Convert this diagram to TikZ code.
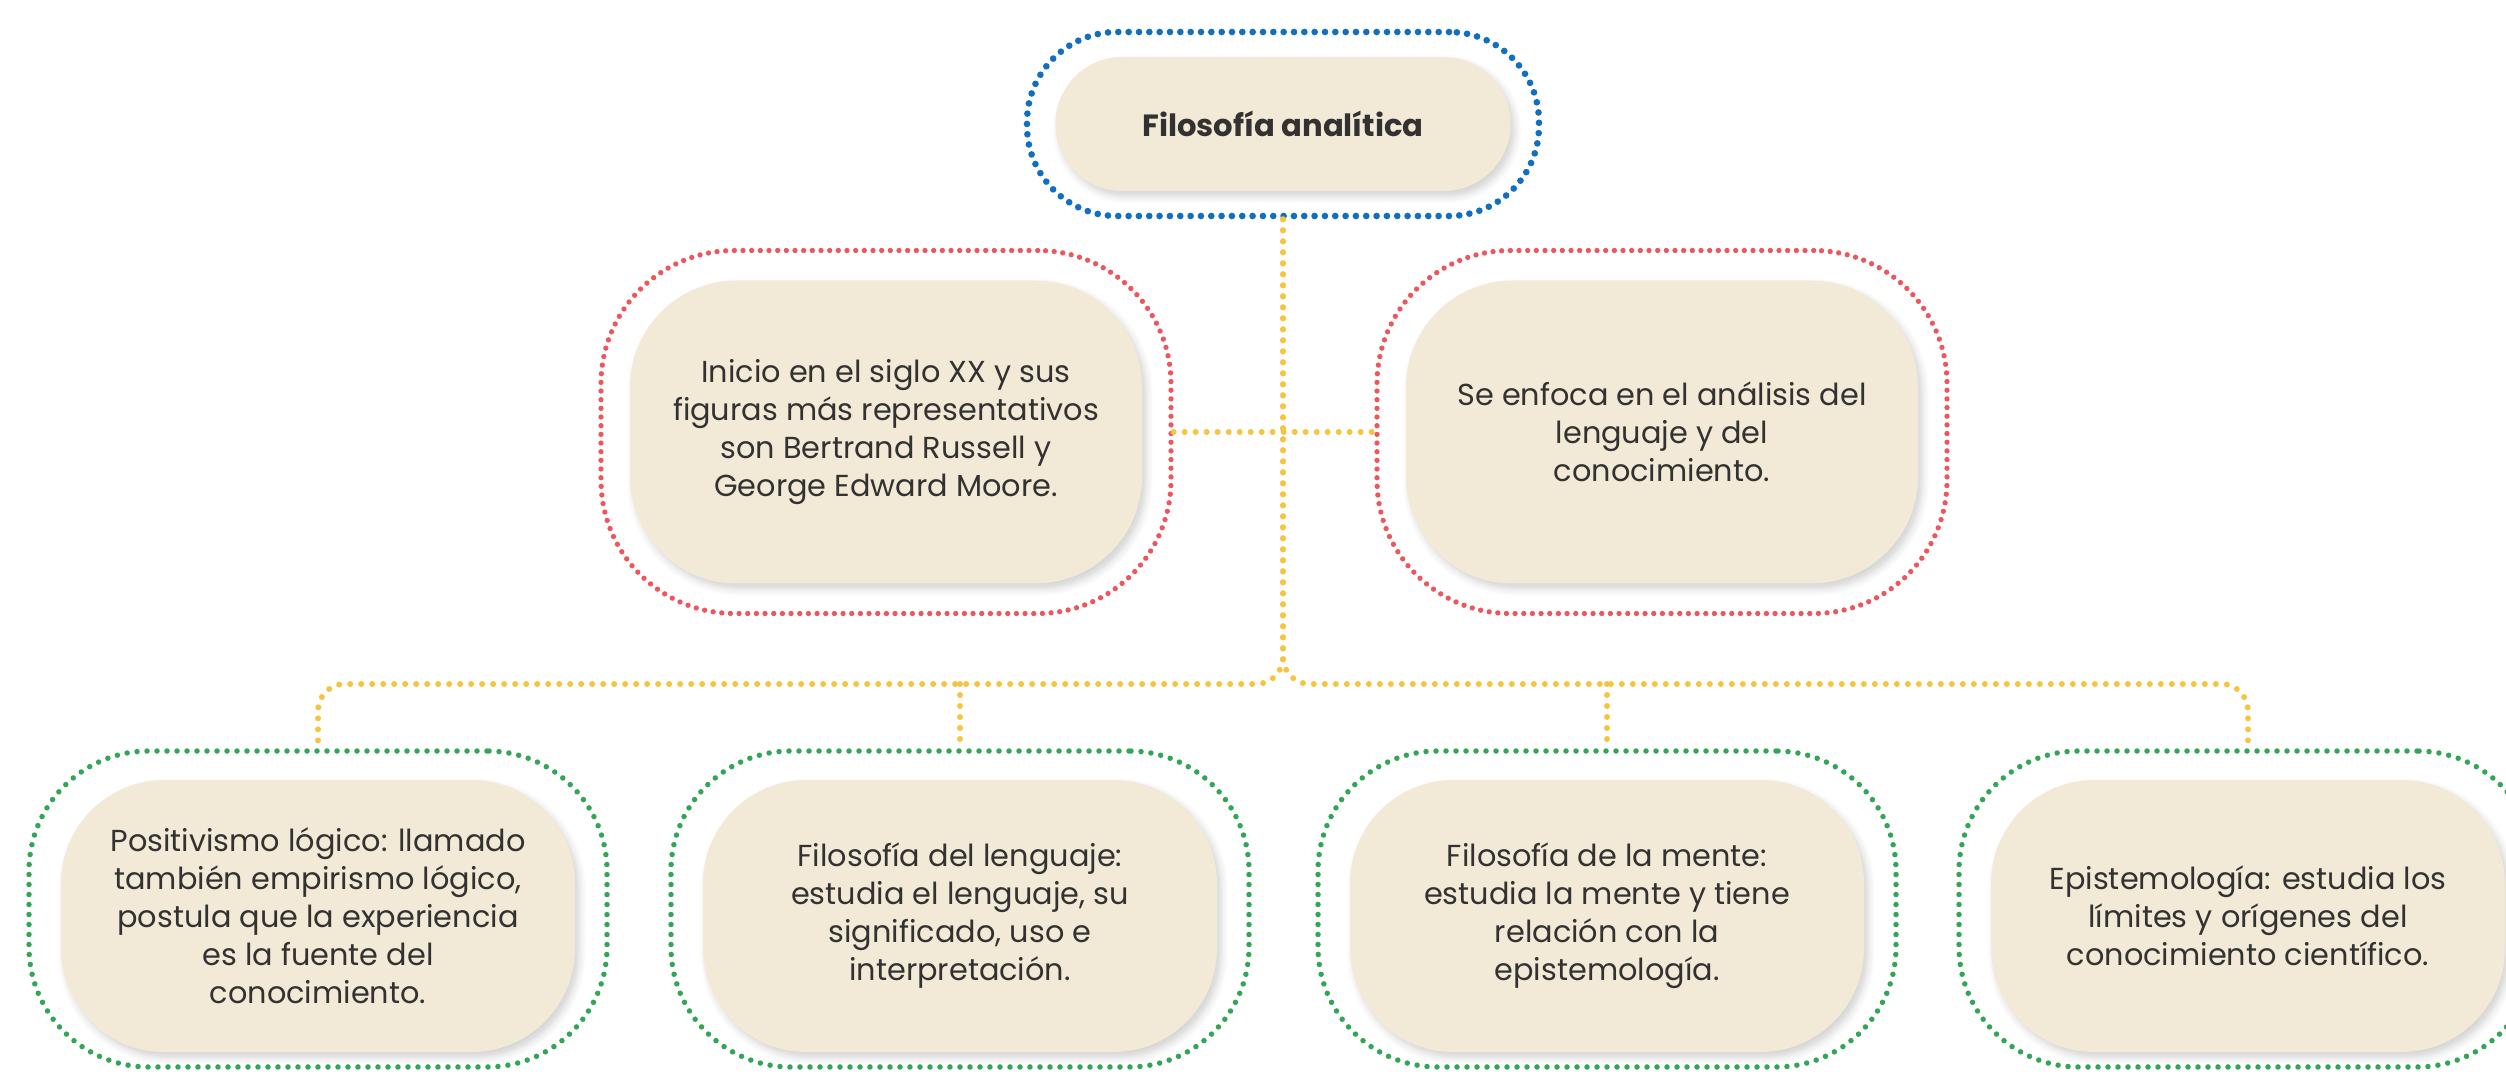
\documentclass[tikz,border=0pt]{standalone}
\usepackage{fontspec}
\setmainfont{Poppins}
\usetikzlibrary{shadows.blur}

\definecolor{cream}{RGB}{242,234,214}
\definecolor{dotblue}{RGB}{18,110,190}
\definecolor{dotred}{RGB}{236,86,92}
\definecolor{dotgreen}{RGB}{50,166,86}
\definecolor{dotyellow}{RGB}{247,196,66}
\definecolor{inkgray}{RGB}{50,50,50}

\tikzset{every picture/.style={line width=0.75pt}}
\tikzset{
  dotline/.style={line cap=round, dash pattern=on 0pt off #1},
  ring/.style={draw=#1, inner sep=0pt},
  card/.style={fill=cream, inner sep=0pt, align=center, text=inkgray,
    font=\fontsize{9.1}{11.4}\selectfont,
    blur shadow={shadow xshift=1.2pt, shadow yshift=-1.6pt, shadow blur steps=6, shadow opacity=18}},
  link/.style={draw=dotyellow, line width=1.8pt, dotline=3.3pt},
}

\begin{document}
\begin{tikzpicture}[x=0.3pt,y=0.3pt,yscale=-1,xscale=1]
	\useasboundingbox (0,0) rectangle (2506,1072);

	%Rings (dotted outlines)
	\node [ring=dotblue, line width=2pt, dotline=3.1pt, rounded corners=27pt, minimum width=153.6pt, minimum height=55.2pt] (analiticaring) at (1283,124) {};
	\node [ring=dotred, line width=1.6pt, dotline=2.6pt, rounded corners=40pt, minimum width=171pt, minimum height=108.9pt] (sigloring) at (886,432) {};
	\node [ring=dotred, line width=1.6pt, dotline=2.6pt, rounded corners=40pt, minimum width=171pt, minimum height=108.9pt] (enfocaring) at (1662,432) {};
	\foreach \nm/\cx in {positivismo/318, lenguaje/960, mente/1607, episteme/2248}
		\node [ring=dotgreen, line width=1.65pt, dotline=3pt, rounded corners=36pt, minimum width=173.4pt, minimum height=94.8pt] (\nm ring) at (\cx,909) {};

	%Cards (filled boxes with text)
	\node [card, rounded corners=20pt, minimum width=136.5pt, minimum height=40.2pt, font=\fontsize{9.2}{11.4}\selectfont\bfseries] (analitica) at (analiticaring) {Filosofía analítica};
	\node [card, rounded corners=32pt, minimum width=153.6pt, minimum height=90.9pt] (siglo) at (sigloring) {Inicio en el siglo XX y sus\\figuras más representativos\\son Bertrand Russell y\\George Edward Moore.};
	\node [card, rounded corners=32pt, minimum width=153.6pt, minimum height=90.9pt] (enfoca) at (enfocaring) {Se enfoca en el análisis del\\lenguaje y del\\conocimiento.};
	\node [card, rounded corners=31pt, minimum width=154.2pt, minimum height=81.6pt] (positivismo) at (318,916) {Positivismo lógico: llamado\\también empirismo lógico,\\postula que la experiencia\\es la fuente del\\conocimiento.};
	\node [card, rounded corners=31pt, minimum width=154.2pt, minimum height=81.6pt] (lenguaje) at (960,916) {Filosofía del lenguaje:\\estudia el lenguaje, su\\significado, uso e\\interpretación.};
	\node [card, rounded corners=31pt, minimum width=154.2pt, minimum height=81.6pt] (mente) at (1607,916) {Filosofía de la mente:\\estudia la mente y tiene\\relación con la\\epistemología.};
	\node [card, rounded corners=31pt, minimum width=154.2pt, minimum height=81.6pt] (episteme) at (2248,916) {Epistemología: estudia los\\límites y orígenes del\\conocimiento científico.};

	%Connectors
	\coordinate (bar) at (1283,684);
	\draw [link] (sigloring.east) -- (enfocaring.west);
	\draw [link, rounded corners=8pt] (analiticaring.south) -- (bar) -| (positivismoring.north);
	\draw [link, rounded corners=8pt] (analiticaring.south) -- (bar) -| (epistemering.north);
	\draw [link] (lenguajering.north |- bar) -- (lenguajering.north);
	\draw [link] (mentering.north |- bar) -- (mentering.north);

\end{tikzpicture}
\end{document}
